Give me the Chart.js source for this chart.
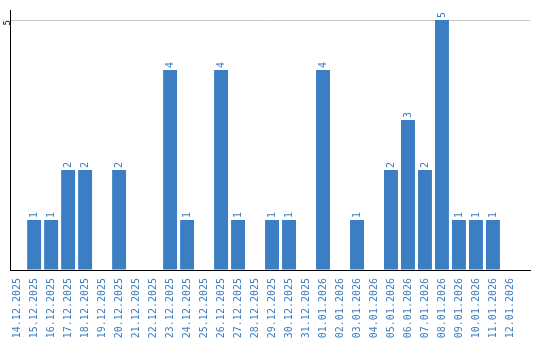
<!DOCTYPE html>
<html lang="en">
<head>
    <meta charset="UTF-8">
    <title>Daily count</title>
    <script src="https://cdn.jsdelivr.net/npm/chart.js"></script>
    <style>
        body { margin: 0; background: #fff; }
        #wrap { width: 540px; height: 340px; }
    </style>
</head>
<body>
    <div id="wrap"><canvas id="countChart"></canvas></div>
    <script>
        const days = [
            '14.12.2025', '15.12.2025', '16.12.2025', '17.12.2025', '18.12.2025',
            '19.12.2025', '20.12.2025', '21.12.2025', '22.12.2025', '23.12.2025',
            '24.12.2025', '25.12.2025', '26.12.2025', '27.12.2025', '28.12.2025',
            '29.12.2025', '30.12.2025', '31.12.2025', '01.01.2026', '02.01.2026',
            '03.01.2026', '04.01.2026', '05.01.2026', '06.01.2026', '07.01.2026',
            '08.01.2026', '09.01.2026', '10.01.2026', '11.01.2026', '12.01.2026'
        ];
        const counts = [0, 1, 1, 2, 2, 0, 2, 0, 0, 4, 1, 0, 4, 1, 0, 1, 1, 0, 4, 0, 1, 0, 2, 3, 2, 5, 1, 1, 1, 0];
        const yTicks = [5];

        const blue = '#3b7ec3';
        const font = { family: 'DejaVu Sans Mono', size: 10 };

        // draw the value above each bar, turned on its side
        const valueLabels = {
            id: 'valueLabels',
            afterDatasetsDraw(chart) {
                const ctx = chart.ctx;
                const meta = chart.getDatasetMeta(0);
                ctx.save();
                ctx.fillStyle = blue;
                ctx.font = font.size + 'px ' + font.family;
                ctx.textAlign = 'left';
                ctx.textBaseline = 'middle';
                meta.data.forEach((bar, i) => {
                    const v = counts[i];
                    if (!v) return;
                    ctx.save();
                    ctx.translate(bar.x, bar.y - 2);
                    ctx.rotate(-Math.PI / 2);
                    ctx.fillText(String(v), 0, 0);
                    ctx.restore();
                });
                ctx.restore();
            }
        };

        new Chart(document.getElementById('countChart'), {
            type: 'bar',
            data: {
                datasets: [{
                    data: counts.map((v, i) => ({ x: i, y: v })),
                    backgroundColor: blue,
                    barPercentage: 0.82,
                    categoryPercentage: 1.0
                }]
            },
            options: {
                responsive: true,
                maintainAspectRatio: false,
                animation: false,
                layout: { padding: { top: 10, right: 10, left: 0, bottom: 0 } },
                plugins: { legend: { display: false }, tooltip: { enabled: false } },
                scales: {
                    x: {
                        type: 'linear',
                        offset: false,
                        min: -0.42,
                        max: 30.18,
                        afterBuildTicks(scale) {
                            scale.ticks = days.map((d, i) => ({ value: i }));
                        },
                        grid: { display: false },
                        border: { display: true, color: '#000', width: 1 },
                        ticks: {
                            color: blue,
                            font: font,
                            minRotation: 90,
                            maxRotation: 90,
                            autoSkip: false,
                            padding: 0,
                            callback: v => days[v] || ''
                        },
                        afterFit(scale) {
                            scale.height = 70;
                            scale.paddingLeft = 0;
                            scale.paddingRight = 0;
                        }
                    },
                    y: {
                        min: 0,
                        max: 5.2,
                        afterBuildTicks(scale) {
                            scale.ticks = [{ value: 0 }].concat(yTicks.map(v => ({ value: v })));
                        },
                        grid: {
                            color: ctx => ctx.tick && ctx.tick.value === 0 ? 'rgba(0,0,0,0)' : '#c8c8c8',
                            drawTicks: false
                        },
                        border: { display: true, color: '#000', width: 1 },
                        ticks: {
                            color: '#000',
                            font: { family: 'DejaVu Sans Mono', size: 9 },
                            minRotation: 90,
                            maxRotation: 90,
                            padding: 2,
                            callback: v => (v === 0 ? '' : v)
                        },
                        afterFit(scale) {
                            scale.width = 10;
                            scale.paddingTop = 0;
                            scale.paddingBottom = 0;
                        }
                    }
                }
            },
            plugins: [valueLabels]
        });
    </script>
</body>
</html>
